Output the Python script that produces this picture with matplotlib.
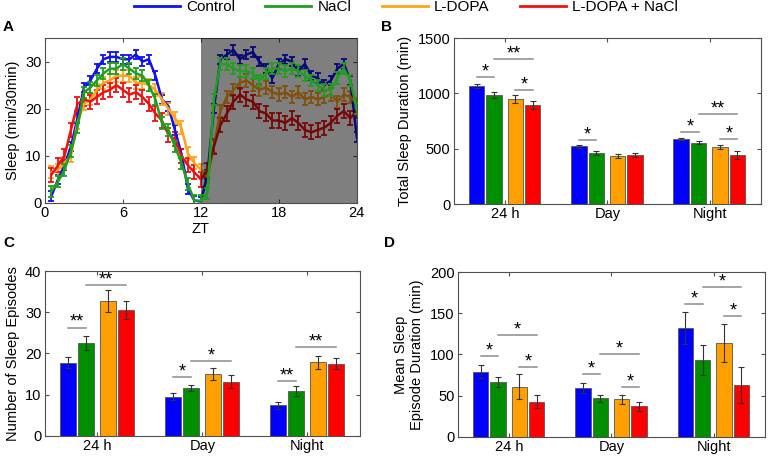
import numpy as np
import matplotlib.pyplot as plt

plt.rcParams['font.family'] = ['Liberation Sans', 'DejaVu Sans']

# groups and colours
groups = ['Control', 'NaCl', 'L-DOPA', 'L-DOPA + NaCl']
line_colors = ['#1010f0', '#1f9f1f', '#ffa41a', '#f01010']
bar_colors = ['#0000ff', '#008f00', '#ffa000', '#ff0000']

# Panel A: sleep per 30 min bin over ZT
zt = np.arange(1, 49) * 0.5
sleep_control = [1.5, 5, 8, 12, 18, 24.5, 26, 28.5, 30.5, 31, 31, 30.5,
                 30.5, 31.5, 30, 30.5, 27, 22, 20.5, 15.5, 10.5, 3, 0.5, 0.3,
                 6, 20, 30.5, 31.5, 32.5, 30.5, 31.5, 32, 30, 28.5, 26.5, 29.5,
                 30.5, 30, 28, 29.5, 27, 26.5, 25, 26, 28.5, 29.5, 26, 14]
sleep_nacl = [2.5, 4.5, 7, 11, 16, 23.5, 24.5, 26, 27.5, 28.5, 28.5, 29.5,
              28.5, 27.5, 27, 25, 22, 17, 15.5, 12, 8.5, 4, 0.5, 0.5,
              2, 22, 29.5, 29.5, 28.5, 28, 28, 27.5, 26, 27.5, 28.5, 28.5,
              28, 28.5, 28, 27, 26, 25, 24, 24, 26.5, 28.5, 26, 20]
sleep_ldopa = [6.5, 7, 8.5, 10, 17, 21, 22, 24, 25.5, 26, 27, 27,
               27, 25.5, 25.5, 25, 24, 22, 20, 18, 16, 10.5, 8.5, 7,
               5.5, 12, 19.5, 22.5, 24, 25.5, 26, 25, 24, 24.5, 23.5, 23,
               23.5, 22.5, 23.5, 22, 22.5, 22, 22.5, 23, 21.5, 23, 22.5, 21]
sleep_ldopa_nacl = [6, 8, 10, 15.5, 21, 22, 21.5, 22.5, 23.5, 24, 25, 24,
                    23, 23.5, 22.5, 21, 19, 17.5, 14.5, 13.5, 10, 8, 6.5, 5,
                    7, 12, 16.5, 19, 21.5, 23, 22, 21.5, 19.5, 19, 17.5, 17.5,
                    17, 18, 17, 15.5, 15, 15.5, 16, 17, 18.5, 19.5, 18, 19.5]
sleep_sem = [1.0, 1.2, 1.3, 1.5]

# Panels B-D: per period means and SEM (order: Control, NaCl, L-DOPA, L-DOPA + NaCl)
periods = ['24 h', 'Day', 'Night']
total_mean = [[1065, 985, 950, 895], [520, 460, 435, 445], [590, 555, 515, 445]]
total_sem = [[20, 25, 35, 35], [15, 20, 15, 20], [10, 12, 22, 35]]
episodes_mean = [[17.8, 22.5, 32.8, 30.6], [9.5, 11.6, 15.0, 13.2], [7.4, 10.9, 17.9, 17.5]]
episodes_sem = [[1.4, 1.7, 2.7, 2.2], [0.8, 0.8, 1.5, 1.5], [0.9, 1.2, 1.6, 1.3]]
duration_mean = [[79, 67, 61, 43], [59, 47, 45.5, 37], [132, 93, 114, 63]]
duration_sem = [[8, 6, 15, 8], [6, 4, 6, 5], [19, 18, 23, 22]]

# significance marks: (period, bar a, bar b, height, label)
total_sig = [(0, 0, 1, 1150, '*'), (0, 1, 3, 1310, '**'), (0, 2, 3, 1030, '*'),
             (1, 0, 1, 580, '*'),
             (2, 0, 1, 655, '*'), (2, 1, 3, 815, '**'), (2, 2, 3, 590, '*')]
episodes_sig = [(0, 0, 1, 26.3, '**'), (0, 1, 3, 36.5, '**'),
                (1, 0, 1, 14.2, '*'), (1, 1, 3, 18.1, '*'),
                (2, 0, 1, 13.4, '**'), (2, 1, 3, 21.5, '**')]
duration_sig = [(0, 0, 1, 98, '*'), (0, 1, 3, 124, '*'), (0, 2, 3, 85, '*'),
                (1, 0, 1, 76, '*'), (1, 1, 3, 101, '*'), (1, 2, 3, 60, '*'),
                (2, 0, 1, 161, '*'), (2, 1, 3, 182, '*'), (2, 2, 3, 147, '*')]

spine_col = '#505050'
offsets = [-0.28, -0.11, 0.10, 0.27]


def style_axes(ax):
    for s in ax.spines.values():
        s.set_color(spine_col)
        s.set_linewidth(0.8)
    ax.tick_params(direction='in', top=True, right=True, length=3,
                   color=spine_col, labelsize=10.5, pad=2.5)


def bar_panel(ax, means, sems, sig, ymax, yticks, ylabel):
    x = np.arange(1, len(periods) + 1)
    for i in range(4):
        m = [means[p][i] for p in range(len(periods))]
        e = [sems[p][i] for p in range(len(periods))]
        ax.bar(x + offsets[i], m, width=0.15, color=bar_colors[i],
               edgecolor='#555555', linewidth=0.6, zorder=2)
        ax.errorbar(x + offsets[i], m, yerr=e, fmt='none', ecolor='#333333',
                    elinewidth=0.8, capsize=2, capthick=0.8, zorder=3)
    for p, a, b, h, lab in sig:
        xa = x[p] + offsets[a]
        xb = x[p] + offsets[b]
        ax.plot([xa, xb], [h, h], color='#8c8c8c', lw=1.1, zorder=3)
        ax.annotate(lab, ((xa + xb) / 2, h), xytext=(0, -2.5),
                    textcoords='offset points', ha='center', va='bottom',
                    fontsize=13)
    ax.set_xlim(0.5, 3.5)
    ax.set_ylim(0, ymax)
    ax.set_xticks(x)
    ax.set_xticklabels(periods)
    ax.set_yticks(yticks)
    ax.set_ylabel(ylabel, fontsize=10.5, labelpad=4)
    style_axes(ax)


fig = plt.figure(figsize=(7.7, 4.57), dpi=100)

# Panel A
axA = fig.add_axes([0.0584, 0.5558, 0.405, 0.361])
axA.axvspan(12, 24, color='black', alpha=0.5, lw=0, zorder=3)
series = [sleep_control, sleep_ldopa, sleep_ldopa_nacl, sleep_nacl]
order = [0, 2, 3, 1]
for s, i in zip(series, order):
    z = 4 if i == 1 else 2
    axA.errorbar(zt, s, yerr=sleep_sem[i], color=line_colors[i], lw=1.8,
                 elinewidth=1.3, capsize=2.5, capthick=1.3, zorder=z)
axA.set_xlim(0, 24)
axA.set_ylim(0, 35)
axA.set_xticks([0, 6, 12, 18, 24])
axA.set_yticks([0, 10, 20, 30])
axA.set_xlabel('ZT', fontsize=10.5, labelpad=1)
axA.set_ylabel('Sleep (min/30min)', fontsize=10.5, labelpad=4)
style_axes(axA)

# Panel B
axB = fig.add_axes([0.5896, 0.5536, 0.3987, 0.363])
bar_panel(axB, total_mean, total_sem, total_sig, 1500, [0, 500, 1000, 1500],
          'Total Sleep Duration (min)')

# Panel C
axC = fig.add_axes([0.0584, 0.046, 0.409, 0.361])
bar_panel(axC, episodes_mean, episodes_sem, episodes_sig, 40, [0, 10, 20, 30, 40],
          'Number of Sleep Episodes')

# Panel D
axD = fig.add_axes([0.5948, 0.0438, 0.3987, 0.361])
bar_panel(axD, duration_mean, duration_sem, duration_sig, 200, [0, 50, 100, 150, 200],
          'Mean Sleep\nEpisode Duration (min)')

# panel letters
for lab, xf, yf in [('A', 0.004, 0.941), ('B', 0.495, 0.941),
                    ('C', 0.004, 0.468), ('D', 0.499, 0.468)]:
    fig.text(xf, yf, lab, fontsize=11, fontweight='bold', va='center', ha='left')

# legend
handles = [plt.Line2D([], [], color=c, lw=2) for c in line_colors]
fig.legend(handles, groups, loc='upper center', bbox_to_anchor=(0.527, 1.03),
           ncol=4, frameon=False, fontsize=11, handlelength=3.0,
           columnspacing=2.0, handletextpad=0.4)

fig.savefig('out.png', dpi=100)
